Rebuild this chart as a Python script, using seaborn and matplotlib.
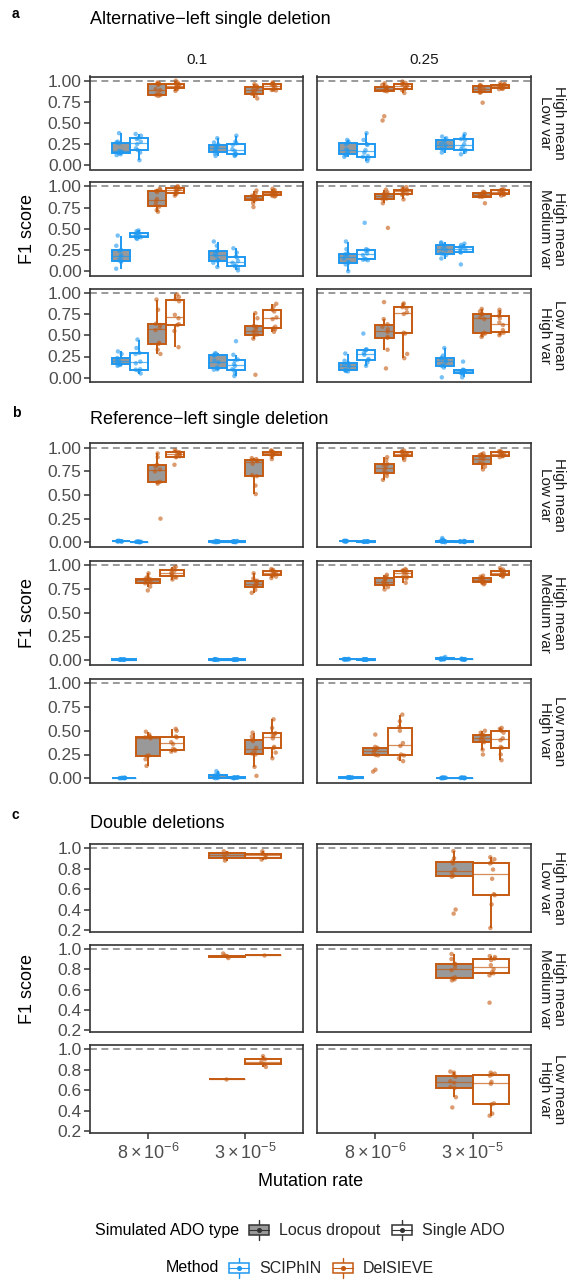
import numpy as np
import pandas as pd
import matplotlib
matplotlib.use("Agg")
import matplotlib.pyplot as plt
import seaborn as sns
from matplotlib.legend_handler import HandlerBase
from matplotlib.patches import Rectangle
from matplotlib.lines import Line2D

sns.set_theme(style="white")
plt.rcParams["font.family"] = ["Liberation Sans", "DejaVu Sans"]
plt.rcParams["mathtext.fontset"] = "custom"
plt.rcParams["mathtext.rm"] = "Liberation Sans"
plt.rcParams["mathtext.it"] = "Liberation Sans:italic"
plt.rcParams["mathtext.bf"] = "Liberation Sans:bold"

# ---------------- categories / labels ----------------
panel_keys = ["a", "b", "c"]
panel_titles = ["Alternative\u2212left single deletion", "Reference\u2212left single deletion", "Double deletions"]
col_labels = ["0.1", "0.25"]
row_labels = ["High mean\nLow var", "High mean\nMedium var", "Low mean\nHigh var"]
rate_levels = ["8e-6", "3e-5"]
rate_ticklabels = [r"$8\times10^{-6}$", r"$3\times10^{-5}$"]
methods = ["SCIPhIN", "DelSIEVE"]
ado_types = ["Locus dropout", "Single ADO"]

# ---------------- data: F1 scores (panel_row_col_rate_[S=SCIPhIN|D=DelSIEVE][L=Locus|S=Single]) ----------------
# Panel a
a_r1_c1_x1_SL = [0.12, 0.13, 0.14, 0.15, 0.16, 0.17, 0.26, 0.27, 0.28, 0.38]
a_r1_c1_x1_SS = [0.06, 0.15, 0.18, 0.2, 0.25, 0.28, 0.31, 0.32, 0.35, 0.37]
a_r1_c1_x1_DL = [0.82, 0.83, 0.83, 0.85, 0.89, 0.9, 0.95, 0.96, 0.97, 0.98]
a_r1_c1_x1_DS = [0.88, 0.9, 0.91, 0.92, 0.93, 0.945, 0.96, 0.965, 0.98, 1.0]
a_r1_c1_x2_SL = [0.11, 0.14, 0.16, 0.17, 0.2, 0.21, 0.23, 0.245, 0.27, 0.32]
a_r1_c1_x2_SS = [0.11, 0.12, 0.13, 0.14, 0.17, 0.19, 0.24, 0.26, 0.28, 0.35]
a_r1_c1_x2_DL = [0.79, 0.83, 0.845, 0.85, 0.88, 0.89, 0.915, 0.925, 0.94, 0.96]
a_r1_c1_x2_DS = [0.885, 0.89, 0.895, 0.9, 0.93, 0.94, 0.955, 0.962, 0.97, 0.98]
a_r1_c2_x1_SL = [0.1, 0.12, 0.13, 0.14, 0.17, 0.19, 0.25, 0.265, 0.28, 0.3]
a_r1_c2_x1_SS = [0.05, 0.08, 0.1, 0.11, 0.15, 0.18, 0.24, 0.25, 0.3, 0.38]
a_r1_c2_x1_DL = [0.53, 0.58, 0.875, 0.88, 0.9, 0.905, 0.92, 0.93, 0.95, 0.97]
a_r1_c2_x1_DS = [0.855, 0.89, 0.905, 0.91, 0.935, 0.945, 0.955, 0.962, 0.975, 0.99]
a_r1_c2_x2_SL = [0.15, 0.18, 0.195, 0.2, 0.24, 0.25, 0.28, 0.3, 0.32, 0.34]
a_r1_c2_x2_SS = [0.13, 0.16, 0.18, 0.19, 0.22, 0.25, 0.3, 0.31, 0.34, 0.37]
a_r1_c2_x2_DL = [0.74, 0.86, 0.862, 0.87, 0.9, 0.905, 0.925, 0.935, 0.94, 0.95]
a_r1_c2_x2_DS = [0.9, 0.905, 0.907, 0.915, 0.93, 0.935, 0.95, 0.955, 0.96, 0.97]

a_r2_c1_x1_SL = [0.03, 0.11, 0.125, 0.13, 0.17, 0.19, 0.24, 0.25, 0.3, 0.42]
a_r2_c1_x1_SS = [0.38, 0.39, 0.4, 0.41, 0.42, 0.44, 0.445, 0.455, 0.47, 0.48]
a_r2_c1_x1_DL = [0.7, 0.72, 0.76, 0.78, 0.82, 0.85, 0.93, 0.945, 0.96, 0.97]
a_r2_c1_x1_DS = [0.89, 0.91, 0.92, 0.93, 0.955, 0.965, 0.97, 0.978, 0.99, 1.0]
a_r2_c1_x2_SL = [0.05, 0.1, 0.125, 0.13, 0.18, 0.2, 0.23, 0.24, 0.3, 0.35]
a_r2_c1_x2_SS = [0.01, 0.04, 0.06, 0.07, 0.1, 0.12, 0.16, 0.175, 0.22, 0.27]
a_r2_c1_x2_DL = [0.755, 0.8, 0.84, 0.845, 0.86, 0.875, 0.885, 0.89, 0.92, 0.95]
a_r2_c1_x2_DS = [0.88, 0.885, 0.89, 0.9, 0.91, 0.92, 0.93, 0.94, 0.955, 0.97]
a_r2_c2_x1_SL = [0.0, 0.08, 0.1, 0.11, 0.15, 0.18, 0.2, 0.21, 0.26, 0.35]
a_r2_c2_x1_SS = [0.13, 0.135, 0.14, 0.15, 0.19, 0.21, 0.24, 0.25, 0.26, 0.57]
a_r2_c2_x1_DL = [0.51, 0.8, 0.85, 0.855, 0.88, 0.885, 0.905, 0.912, 0.93, 0.96]
a_r2_c2_x1_DS = [0.845, 0.9, 0.905, 0.91, 0.935, 0.945, 0.955, 0.962, 0.975, 0.99]
a_r2_c2_x2_SL = [0.15, 0.19, 0.2, 0.21, 0.25, 0.265, 0.3, 0.312, 0.33, 0.34]
a_r2_c2_x2_SS = [0.08, 0.22, 0.225, 0.23, 0.25, 0.265, 0.285, 0.29, 0.31, 0.325]
a_r2_c2_x2_DL = [0.8, 0.875, 0.877, 0.885, 0.9, 0.905, 0.915, 0.922, 0.93, 0.935]
a_r2_c2_x2_DS = [0.89, 0.9, 0.907, 0.915, 0.93, 0.94, 0.95, 0.955, 0.96, 0.965]

a_r3_c1_x1_SL = [0.14, 0.15, 0.155, 0.16, 0.19, 0.2, 0.22, 0.233, 0.28, 0.31]
a_r3_c1_x1_SS = [0.05, 0.08, 0.095, 0.1, 0.17, 0.19, 0.28, 0.292, 0.35, 0.45]
a_r3_c1_x1_DL = [0.28, 0.33, 0.4, 0.41, 0.56, 0.59, 0.62, 0.635, 0.8, 0.92]
a_r3_c1_x1_DS = [0.36, 0.55, 0.62, 0.63, 0.7, 0.74, 0.9, 0.925, 0.95, 0.98]
a_r3_c1_x2_SL = [0.095, 0.1, 0.11, 0.12, 0.18, 0.2, 0.26, 0.27, 0.28, 0.29]
a_r3_c1_x2_SS = [0.02, 0.05, 0.09, 0.1, 0.14, 0.16, 0.2, 0.215, 0.27, 0.43]
a_r3_c1_x2_DL = [0.035, 0.46, 0.5, 0.51, 0.54, 0.57, 0.6, 0.61, 0.7, 0.76]
a_r3_c1_x2_DS = [0.54, 0.57, 0.58, 0.6, 0.69, 0.71, 0.78, 0.8, 0.84, 0.87]
a_r3_c2_x1_SL = [0.075, 0.08, 0.085, 0.09, 0.13, 0.15, 0.165, 0.172, 0.2, 0.285]
a_r3_c2_x1_SS = [0.14, 0.18, 0.21, 0.22, 0.27, 0.29, 0.32, 0.33, 0.335, 0.52]
a_r3_c2_x1_DL = [0.11, 0.33, 0.47, 0.48, 0.54, 0.57, 0.6, 0.63, 0.69, 0.89]
a_r3_c2_x1_DS = [0.23, 0.28, 0.52, 0.53, 0.75, 0.77, 0.82, 0.83, 0.86, 0.875]
a_r3_c2_x2_SL = [0.005, 0.12, 0.14, 0.15, 0.19, 0.21, 0.225, 0.235, 0.26, 0.35]
a_r3_c2_x2_SS = [0.005, 0.05, 0.052, 0.06, 0.07, 0.08, 0.085, 0.09, 0.095, 0.19]
a_r3_c2_x2_DL = [0.48, 0.5, 0.52, 0.53, 0.69, 0.71, 0.745, 0.75, 0.78, 0.81]
a_r3_c2_x2_DS = [0.5, 0.52, 0.53, 0.56, 0.62, 0.65, 0.7, 0.73, 0.77, 0.8]

# Panel b
b_r1_c1_x1_SL = [0.008, 0.01, 0.01, 0.012, 0.012, 0.012, 0.012, 0.013, 0.015, 0.015]
b_r1_c1_x1_SS = [0.0, 0.002, 0.003, 0.004, 0.004, 0.005, 0.005, 0.006, 0.006, 0.008]
b_r1_c1_x1_DL = [0.25, 0.62, 0.635, 0.64, 0.75, 0.77, 0.8, 0.82, 0.9, 0.94]
b_r1_c1_x1_DS = [0.82, 0.9, 0.905, 0.91, 0.93, 0.94, 0.945, 0.952, 0.96, 0.975]
b_r1_c1_x2_SL = [0.0, 0.002, 0.004, 0.005, 0.006, 0.007, 0.008, 0.01, 0.012, 0.015]
b_r1_c1_x2_SS = [0.0, 0.003, 0.005, 0.006, 0.006, 0.008, 0.009, 0.01, 0.012, 0.014]
b_r1_c1_x2_DL = [0.51, 0.6, 0.7, 0.71, 0.83, 0.86, 0.865, 0.872, 0.88, 0.89]
b_r1_c1_x2_DS = [0.88, 0.91, 0.922, 0.93, 0.94, 0.948, 0.955, 0.958, 0.965, 0.972]
b_r1_c2_x1_SL = [0.008, 0.01, 0.011, 0.012, 0.012, 0.013, 0.013, 0.014, 0.015, 0.016]
b_r1_c2_x1_SS = [0.004, 0.005, 0.006, 0.007, 0.007, 0.008, 0.008, 0.009, 0.01, 0.012]
b_r1_c2_x1_DL = [0.66, 0.7, 0.73, 0.74, 0.77, 0.8, 0.82, 0.83, 0.87, 0.9]
b_r1_c2_x1_DS = [0.87, 0.9, 0.915, 0.92, 0.935, 0.94, 0.95, 0.958, 0.962, 0.97]
b_r1_c2_x2_SL = [0.0, 0.003, 0.005, 0.007, 0.01, 0.012, 0.015, 0.02, 0.03, 0.045]
b_r1_c2_x2_SS = [0.002, 0.004, 0.005, 0.006, 0.007, 0.008, 0.009, 0.01, 0.012, 0.015]
b_r1_c2_x2_DL = [0.77, 0.8, 0.83, 0.84, 0.88, 0.89, 0.91, 0.92, 0.93, 0.94]
b_r1_c2_x2_DS = [0.9, 0.91, 0.917, 0.92, 0.935, 0.94, 0.95, 0.955, 0.96, 0.965]

b_r2_c1_x1_SL = [0.003, 0.005, 0.006, 0.007, 0.007, 0.008, 0.008, 0.009, 0.01, 0.01]
b_r2_c1_x1_DL = [0.735, 0.775, 0.81, 0.815, 0.835, 0.845, 0.855, 0.86, 0.88, 0.915]
b_r2_c1_x1_DS = [0.85, 0.87, 0.88, 0.89, 0.91, 0.92, 0.94, 0.952, 0.97, 0.985]
b_r2_c1_x2_SL = [0.002, 0.004, 0.005, 0.006, 0.007, 0.007, 0.008, 0.009, 0.01, 0.012]
b_r2_c1_x2_SS = [0.003, 0.004, 0.005, 0.006, 0.007, 0.008, 0.008, 0.009, 0.01, 0.011]
b_r2_c1_x2_DL = [0.71, 0.74, 0.775, 0.78, 0.8, 0.815, 0.83, 0.837, 0.86, 0.915]
b_r2_c1_x2_DS = [0.865, 0.88, 0.89, 0.9, 0.915, 0.925, 0.935, 0.945, 0.95, 0.96]
b_r2_c2_x1_SL = [0.006, 0.008, 0.009, 0.01, 0.01, 0.011, 0.011, 0.012, 0.013, 0.015]
b_r2_c2_x1_SS = [0.004, 0.005, 0.006, 0.007, 0.007, 0.008, 0.009, 0.01, 0.011, 0.012]
b_r2_c2_x1_DL = [0.745, 0.77, 0.79, 0.8, 0.82, 0.835, 0.855, 0.865, 0.88, 0.9]
b_r2_c2_x1_DS = [0.815, 0.86, 0.88, 0.885, 0.92, 0.926, 0.94, 0.945, 0.95, 0.96]
b_r2_c2_x2_SL = [0.005, 0.008, 0.01, 0.012, 0.014, 0.015, 0.017, 0.02, 0.025, 0.035]
b_r2_c2_x2_SS = [0.005, 0.007, 0.008, 0.009, 0.01, 0.011, 0.012, 0.013, 0.014, 0.016]
b_r2_c2_x2_DL = [0.8, 0.81, 0.815, 0.83, 0.845, 0.855, 0.865, 0.87, 0.88, 0.89]
b_r2_c2_x2_DS = [0.88, 0.89, 0.895, 0.905, 0.915, 0.925, 0.935, 0.945, 0.955, 0.97]

b_r3_c1_x1_SL = [0.0, 0.0, 0.001, 0.002, 0.002, 0.003, 0.003, 0.004, 0.005, 0.006]
b_r3_c1_x1_DL = [0.13, 0.2, 0.235, 0.24, 0.42, 0.43, 0.435, 0.44, 0.46, 0.49]
b_r3_c1_x1_DS = [0.28, 0.29, 0.3, 0.31, 0.36, 0.38, 0.43, 0.44, 0.5, 0.52]
b_r3_c1_x2_SL = [0.0, 0.002, 0.005, 0.01, 0.015, 0.02, 0.03, 0.035, 0.05, 0.075]
b_r3_c1_x2_SS = [0.0, 0.003, 0.004, 0.005, 0.006, 0.007, 0.008, 0.009, 0.01, 0.012]
b_r3_c1_x2_DL = [0.025, 0.12, 0.25, 0.26, 0.29, 0.32, 0.39, 0.405, 0.44, 0.48]
b_r3_c1_x2_DS = [0.21, 0.27, 0.32, 0.33, 0.42, 0.45, 0.46, 0.475, 0.53, 0.62]
b_r3_c2_x1_SL = [0.004, 0.005, 0.006, 0.007, 0.007, 0.008, 0.009, 0.01, 0.011, 0.012]
b_r3_c2_x1_DL = [0.07, 0.09, 0.24, 0.245, 0.27, 0.3, 0.31, 0.32, 0.33, 0.46]
b_r3_c2_x1_DS = [0.18, 0.21, 0.24, 0.25, 0.34, 0.37, 0.5, 0.54, 0.6, 0.67]
b_r3_c2_x2_SL = [0.0, 0.001, 0.002, 0.003, 0.004, 0.004, 0.005, 0.006, 0.007, 0.008]
b_r3_c2_x2_SS = [0.0, 0.001, 0.002, 0.003, 0.003, 0.004, 0.005, 0.006, 0.007, 0.008]
b_r3_c2_x2_DL = [0.25, 0.3, 0.38, 0.39, 0.41, 0.43, 0.45, 0.46, 0.48, 0.5]
b_r3_c2_x2_DS = [0.19, 0.25, 0.32, 0.33, 0.4, 0.42, 0.48, 0.5, 0.52, 0.53]

# Panel c (DelSIEVE only)
c_r1_c1_x2_DL = [0.877, 0.9, 0.93, 0.95, 0.968]
c_r1_c1_x2_DS = [0.887, 0.905, 0.93, 0.945, 0.968]
c_r2_c1_x2_DL = [0.91, 0.925, 0.93, 0.935, 0.955]
c_r2_c1_x2_DS = [0.938]
c_r3_c1_x2_DL = [0.708]
c_r3_c1_x2_DS = [0.825, 0.85, 0.875, 0.9, 0.93]
c_r1_c2_x2_DL = [0.36, 0.4, 0.72, 0.73, 0.76, 0.79, 0.85, 0.87, 0.9, 0.97]
c_r1_c2_x2_DS = [0.22, 0.45, 0.54, 0.55, 0.7, 0.79, 0.85, 0.86, 0.89, 0.91]
c_r2_c2_x2_DL = [0.69, 0.7, 0.71, 0.72, 0.79, 0.82, 0.85, 0.855, 0.9, 0.95]
c_r2_c2_x2_DS = [0.47, 0.74, 0.76, 0.77, 0.8, 0.84, 0.89, 0.905, 0.92, 0.93]
c_r3_c2_x2_DL = [0.43, 0.53, 0.62, 0.63, 0.67, 0.685, 0.73, 0.745, 0.77, 0.78]
c_r3_c2_x2_DS = [0.35, 0.37, 0.46, 0.47, 0.66, 0.68, 0.74, 0.752, 0.76, 0.77]

# ---------------- assemble long table ----------------
records = []
for p in panel_keys:
    for r in range(1, 4):
        for c in range(1, 3):
            for xi, rate in enumerate(rate_levels, 1):
                for mc, m in zip("SD", methods):
                    for ac, a in zip("LS", ado_types):
                        vals = globals().get(f"{p}_r{r}_c{c}_x{xi}_{mc}{ac}")
                        if vals:
                            for v in vals:
                                records.append((p, r, c, rate, m, a, v))
df = pd.DataFrame(records, columns=["panel", "row", "col", "rate", "method", "ado", "f1"])
df["grp"] = df["method"] + " | " + df["ado"]

# ---------------- styling ----------------
BLUE = "#1E98F0"
ORANGE = "#C55A11"
GREY_FILL = "#999999"
grp_order = [f"{m} | {a}" for m in methods for a in ado_types]
fill_pal = {g: (GREY_FILL if "Locus" in g else "white") for g in grp_order}
edge_col = {g: (BLUE if g.startswith("SCIPhIN") else ORANGE) for g in grp_order}

W, H = 571, 1280
fig = plt.figure(figsize=(W / 100, H / 100), dpi=100)


def fx(px):
    return px / W


def fy(py):
    return 1 - py / H


col_x = [(90, 303), (317, 531)]
row_y = {
    "a": [(76.5, 169.5), (182, 275.5), (288.5, 382)],
    "b": [(443, 547), (560.5, 665), (678.5, 783)],
    "c": [(844, 932), (945, 1032), (1045, 1133)],
}
ylims = {"a": (-0.05, 1.05), "b": (-0.05, 1.05), "c": (0.181, 1.039)}
yticks = {"a": [0, 0.25, 0.5, 0.75, 1.0], "b": [0, 0.25, 0.5, 0.75, 1.0], "c": [0.2, 0.4, 0.6, 0.8, 1.0]}
yticklabels = {"a": ["0.00", "0.25", "0.50", "0.75", "1.00"], "b": ["0.00", "0.25", "0.50", "0.75", "1.00"],
               "c": ["0.2", "0.4", "0.6", "0.8", "1.0"]}
letter_y = {"a": 14, "b": 413, "c": 815}
title_y = {"a": 20, "b": 420, "c": 823}

np.random.seed(7)
TICK_FS = 12.5
STRIP_FS = 11
for pi, p in enumerate(panel_keys):
    fig.text(fx(12), fy(letter_y[p]), p, fontsize=10, fontweight="bold", ha="left", va="center", color="black")
    fig.text(fx(90), fy(title_y[p]), panel_titles[pi], fontsize=13, ha="left", va="center", color="black")
    for r in range(1, 4):
        top, bot = row_y[p][r - 1]
        for c in range(1, 3):
            x0, x1 = col_x[c - 1]
            ax = fig.add_axes([fx(x0), fy(bot), fx(x1) - fx(x0), (bot - top) / H])
            ax.axhline(1.0, color="#7F7F7F", lw=1.1, ls=(0, (4.5, 3)), zorder=0)
            sub = df[(df.panel == p) & (df.row == r) & (df.col == c)]
            for rate in rate_levels:
                s = sub[sub.rate == rate]
                present = [g for g in grp_order if g in set(s.grp)]
                for g in present:
                    d = s[s.grp == g]
                    sns.boxplot(data=d, x="rate", y="f1", hue="grp", order=rate_levels, hue_order=present,
                                palette=fill_pal, linecolor=edge_col[g], dodge=True, width=0.75, gap=0,
                                showfliers=False, showcaps=False, linewidth=1.4, saturation=1,
                                medianprops=dict(color=edge_col[g], linewidth=0.9, alpha=0.7),
                                legend=False, ax=ax, zorder=2)
                    sns.stripplot(data=d, x="rate", y="f1", hue="grp", order=rate_levels, hue_order=present,
                                  palette={k: edge_col[g] for k in grp_order}, dodge=True,
                                  jitter=0.03 * len(present), size=3.2, alpha=0.6, linewidth=0,
                                  legend=False, ax=ax, zorder=3)
            ax.set_xlim(-0.6, 1.6)
            ax.set_ylim(*ylims[p])
            ax.set_xlabel("")
            ax.set_ylabel("")
            ax.grid(False)
            for sp in ax.spines.values():
                sp.set_visible(True)
                sp.set_color("#333333")
                sp.set_linewidth(1.2)
            ax.set_yticks(yticks[p])
            if c == 1:
                ax.set_yticklabels(yticklabels[p])
                ax.tick_params(axis="y", left=True, length=4, width=1.1, color="#333333",
                               labelcolor="#4D4D4D", labelsize=TICK_FS, pad=2)
            else:
                ax.tick_params(axis="y", left=False, labelleft=False)
            ax.set_xticks([0, 1])
            if p == "c" and r == 3:
                ax.set_xticklabels(rate_ticklabels)
                ax.tick_params(axis="x", bottom=True, length=4, width=1.1, color="#333333",
                               labelcolor="#4D4D4D", labelsize=13, pad=3)
            else:
                ax.tick_params(axis="x", bottom=False, labelbottom=False)
            ax.set_facecolor("white")
            if c == 2:
                fig.text(fx(552), fy((top + bot) / 2), row_labels[r - 1], rotation=-90, ha="center",
                         va="center", fontsize=STRIP_FS, color="#1A1A1A", linespacing=0.95,
                         multialignment="center")
        if r == 2:
            fig.text(fx(27), fy((top + bot) / 2), "F1 score", rotation=90, ha="center", va="center",
                     fontsize=13, color="black")
    if p == "a":
        for c in range(2):
            x0, x1 = col_x[c]
            fig.text(fx((x0 + x1) / 2), fy(60), col_labels[c], ha="center", va="center",
                     fontsize=STRIP_FS, color="#1A1A1A")

fig.text(fx(310.5), fy(1181), "Mutation rate", ha="center", va="center", fontsize=13, color="black")


# ---------------- legends with boxplot glyphs ----------------
class BoxGlyph(HandlerBase):
    def __init__(self, face, edge):
        super().__init__()
        self.face, self.edge = face, edge

    def create_artists(self, legend, orig_handle, xdescent, ydescent, width, height, fontsize, trans):
        x0, y0 = -xdescent, -ydescent
        cx, cy = x0 + width / 2, y0 + height / 2
        bh = height * 0.62
        whisk = Line2D([cx, cx], [y0 - height * 0.05, y0 + height * 1.05], color=self.edge, lw=1.0,
                       transform=trans)
        box = Rectangle((x0, cy - bh / 2), width, bh, facecolor=self.face, edgecolor=self.edge, lw=1.1,
                        transform=trans)
        med = Line2D([x0, x0 + width], [cy, cy], color=self.edge, lw=0.8, transform=trans)
        dot = Line2D([cx], [cy], marker="o", ms=2.6, color=self.edge, lw=0, transform=trans)
        return [whisk, box, med, dot]


h_loc, h_sgl, h_sci, h_del = Rectangle((0, 0), 1, 1), Rectangle((0, 0), 1, 1), Rectangle((0, 0), 1, 1), Rectangle((0, 0), 1, 1)
LEG_FS = 11.5
fig.text(fx(95), fy(1230), "Simulated ADO type", ha="left", va="center", fontsize=LEG_FS, color="black")
fig.legend([h_loc, h_sgl], ado_types, loc="center left", bbox_to_anchor=(fx(249), fy(1230)), ncol=2,
           frameon=False, borderpad=0, borderaxespad=0, handlelength=1.25, handleheight=1.3,
           handletextpad=0.65, columnspacing=0.7, fontsize=LEG_FS,
           handler_map={h_loc: BoxGlyph(GREY_FILL, "#333333"), h_sgl: BoxGlyph("white", "#333333")})
fig.text(fx(166), fy(1268), "Method", ha="left", va="center", fontsize=LEG_FS, color="black")
fig.legend([h_sci, h_del], methods, loc="center left", bbox_to_anchor=(fx(229), fy(1268)), ncol=2,
           frameon=False, borderpad=0, borderaxespad=0, handlelength=1.25, handleheight=1.3,
           handletextpad=0.65, columnspacing=0.7, fontsize=LEG_FS,
           handler_map={h_sci: BoxGlyph("white", BLUE), h_del: BoxGlyph("white", ORANGE)})

fig.savefig("out.png", dpi=100, facecolor="white")
